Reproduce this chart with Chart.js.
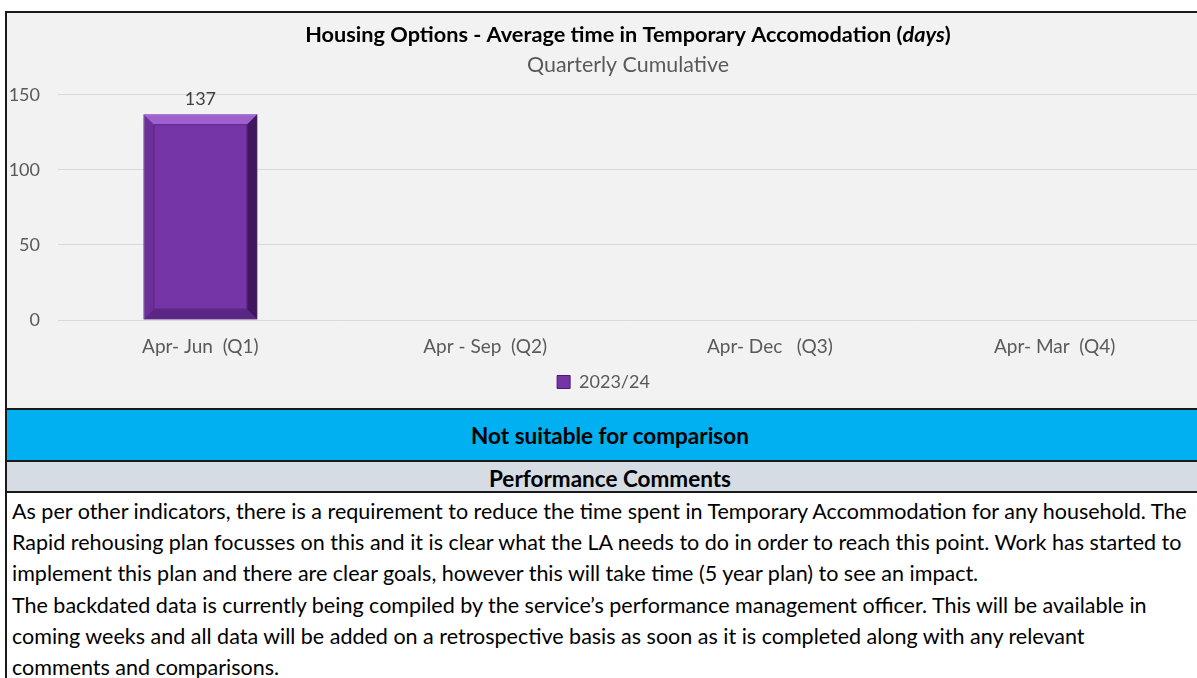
<!DOCTYPE html>
<html>
<head>
<meta charset="utf-8">
<script src="https://cdn.jsdelivr.net/npm/chart.js@4.4.0/dist/chart.umd.min.js"></script>
<style>
  html, body { margin: 0; padding: 0; background: #ffffff; }
  body { width: 1197px; height: 678px; overflow: hidden; position: relative; font-family: Lato, "Open Sans", sans-serif; }
  #frame { position: absolute; left: 5px; top: 11px; width: 1220px; height: 700px; border-left: 2px solid #1a1a1a; border-top: 2px solid #1a1a1a; }
  #chart_box { position: absolute; left: 0; top: 0; width: 1190px; height: 395px; background: #f2f2f2; }
  #band_blue { position: absolute; left: 0; top: 395px; width: 1206px; height: 54px; background: #00b0f0; border-top: 2px solid #1a1a1a; border-bottom: 2px solid #1a1a1a; box-sizing: border-box; display: flex; align-items: center; justify-content: center; font-weight: bold; font-size: 22.5px; color: #000; }
  #band_grey { position: absolute; left: 0; top: 449px; width: 1206px; height: 31px; padding-top: 3px; background: #d6dce4; border-bottom: 2px solid #1a1a1a; box-sizing: border-box; display: flex; align-items: center; justify-content: center; font-weight: bold; font-size: 22.5px; color: #000; }
  #comments { position: absolute; left: 5px; top: 483px; font-size: 21.5px; line-height: 31.2px; color: #000; white-space: nowrap; }
</style>
</head>
<body>
<div id="frame">
  <div id="chart_box"><canvas id="barChart"></canvas></div>
  <div id="band_blue">Not suitable for comparison</div>
  <div id="band_grey">Performance Comments</div>
  <div id="comments">
    As per other indicators, there is a requirement to reduce the time spent in Temporary Accommodation for any household. The<br>
    Rapid rehousing plan focusses on this and it is clear what the LA needs to do in order to reach this point. Work has started to<br>
    implement this plan and there are clear goals, however this will take time (5 year plan) to see an impact.<br>
    The backdated data is currently being compiled by the service’s performance management officer. This will be available in<br>
    coming weeks and all data will be added on a retrospective basis as soon as it is completed along with any relevant<br>
    comments and comparisons.
  </div>
</div>
<script>
"use strict";
const quarterLabels = ["Apr- Jun  (Q1)", "Apr - Sep  (Q2)", "Apr- Dec   (Q3)", "Apr- Mar  (Q4)"];
const seriesName = "2023/24";
const avgDays = [137, null, null, null];
const yTicks = [0, 50, 100, 150];
const titleMain = "Housing Options - Average time in Temporary Accomodation (";
const titleUnit = "days";
const titleEnd = ")";
const subtitleText = "Quarterly Cumulative";

const FONT = "Lato, 'Open Sans', sans-serif";
const TITLE_SIZE = 21.7;
const SUB_SIZE = 21.4;
const SUB_PAD_TOP = 2;
// the excel chart object is wider than the visible crop, so its title sits right of centre
const TITLE_CENTER_X = 621;

setChart();

function setChart() {
  const ctx = document.getElementById("barChart");

  // title has an italic unit, so draw it over the (invisible) library title boxes
  const mixedTitle = {
    id: "mixedTitle",
    afterDraw(chart) {
      const c = chart.ctx;
      const box = chart.titleBlock;
      c.save();
      c.textBaseline = "middle";
      c.textAlign = "left";
      const fBold = "bold " + TITLE_SIZE + "px " + FONT;
      const fItal = "italic bold " + TITLE_SIZE + "px " + FONT;
      c.font = fBold;
      const w1 = c.measureText(titleMain).width;
      const w3 = c.measureText(titleEnd).width;
      c.font = fItal;
      const w2 = c.measureText(titleUnit).width;
      let x = TITLE_CENTER_X - (w1 + w2 + w3) / 2;
      const y = box.top + box.options.padding.top + (TITLE_SIZE * 1.2) / 2;
      c.fillStyle = "#000000";
      c.font = fBold;
      c.fillText(titleMain, x, y);
      x += w1;
      c.font = fItal;
      c.fillText(titleUnit, x, y);
      x += w2;
      c.font = fBold;
      c.fillText(titleEnd, x, y);

      const sy = box.bottom + SUB_PAD_TOP + (SUB_SIZE * 1.2) / 2;
      c.font = SUB_SIZE + "px " + FONT;
      c.fillStyle = "#595959";
      c.textAlign = "center";
      c.fillText(subtitleText, TITLE_CENTER_X, sy);
      c.restore();
    },
  };

  const valueLabels = {
    id: "valueLabels",
    afterDatasetsDraw(chart) {
      const c = chart.ctx;
      const meta = chart.getDatasetMeta(0);
      c.save();
      c.font = "18px " + FONT;
      c.fillStyle = "#404040";
      c.textAlign = "center";
      c.textBaseline = "bottom";
      meta.data.forEach((bar, i) => {
        const v = chart.data.datasets[0].data[i];
        if (v === null) return;
        c.fillText(String(v), bar.x, bar.y - 6);
      });
      c.restore();
    },
  };

  const bevel = {
    id: "bevel",
    afterDatasetsDraw(chart) {
      const c = chart.ctx;
      const meta = chart.getDatasetMeta(0);
      c.save();
      meta.data.forEach((bar, i) => {
        if (chart.data.datasets[0].data[i] === null) return;
        const left = bar.x - bar.width / 2;
        const right = bar.x + bar.width / 2;
        const top = bar.y;
        const bottom = bar.base;
        const inset = 10;
        c.fillStyle = "rgba(185,125,235,0.6)";
        c.beginPath();
        c.moveTo(left, top); c.lineTo(right, top); c.lineTo(right - inset, top + inset); c.lineTo(left + inset, top + inset);
        c.closePath(); c.fill();
        c.fillStyle = "rgba(35,8,55,0.65)";
        c.beginPath();
        c.moveTo(right, top); c.lineTo(right, bottom); c.lineTo(right - inset, bottom - inset); c.lineTo(right - inset, top + inset);
        c.closePath(); c.fill();
        c.fillStyle = "rgba(60,20,90,0.45)";
        c.beginPath();
        c.moveTo(left, bottom); c.lineTo(right, bottom); c.lineTo(right - inset, bottom - inset); c.lineTo(left + inset, bottom - inset);
        c.closePath(); c.fill();
        c.fillStyle = "rgba(90,35,130,0.3)";
        c.beginPath();
        c.moveTo(left, top); c.lineTo(left, bottom); c.lineTo(left + inset, bottom - inset); c.lineTo(left + inset, top + inset);
        c.closePath(); c.fill();
        c.strokeStyle = "rgba(70,25,100,0.55)";
        c.lineWidth = 1;
        c.strokeRect(left + inset + 0.5, top + inset + 0.5, bar.width - 2 * inset - 1, bottom - top - 2 * inset - 1);
      });
      c.restore();
    },
  };

  new Chart(ctx, {
    type: "bar",
    data: {
      labels: quarterLabels,
      datasets: [
        {
          label: seriesName,
          backgroundColor: "#7535a6",
          borderColor: "#4a1a6e",
          borderWidth: 1,
          data: avgDays,
          barPercentage: 0.4,
          categoryPercentage: 1,
        },
      ],
    },
    options: {
      responsive: true,
      maintainAspectRatio: false,
      animation: false,
      layout: { padding: { left: 3, right: 0, top: 6, bottom: 7 } },
      plugins: {
        title: {
          display: true,
          text: titleMain + titleUnit + titleEnd,
          color: "rgba(0,0,0,0)",
          font: { family: FONT, size: TITLE_SIZE, weight: "bold" },
          padding: { top: 3, bottom: 2 },
        },
        subtitle: {
          display: true,
          text: subtitleText,
          color: "rgba(0,0,0,0)",
          font: { family: FONT, size: SUB_SIZE },
          padding: { top: SUB_PAD_TOP, bottom: 17 },
        },
        legend: {
          position: "bottom",
          labels: {
            color: "#595959",
            font: { family: FONT, size: 18 },
            boxWidth: 13,
            boxHeight: 13,
            padding: 3,
          },
        },
        tooltip: { enabled: false },
      },
      scales: {
        x: {
          grid: { display: false, drawTicks: false },
          border: { display: false },
          ticks: {
            color: "#595959",
            font: { family: FONT, size: 19 },
            padding: 15.5,
            maxRotation: 0,
          },
          afterFit(axis) {
            axis.height = 50;
          },
        },
        y: {
          min: 0,
          max: 150,
          afterBuildTicks(axis) {
            axis.ticks = yTicks.map((v) => ({ value: v }));
          },
          afterFit(axis) {
            axis.width = 48;
          },
          grid: { color: "#d9d9d9", drawTicks: false },
          border: { display: false },
          ticks: {
            color: "#595959",
            font: { family: FONT, size: 18 },
            padding: 18,
          },
        },
      },
    },
    plugins: [valueLabels, bevel, mixedTitle],
  });
}
</script>
</body>
</html>
